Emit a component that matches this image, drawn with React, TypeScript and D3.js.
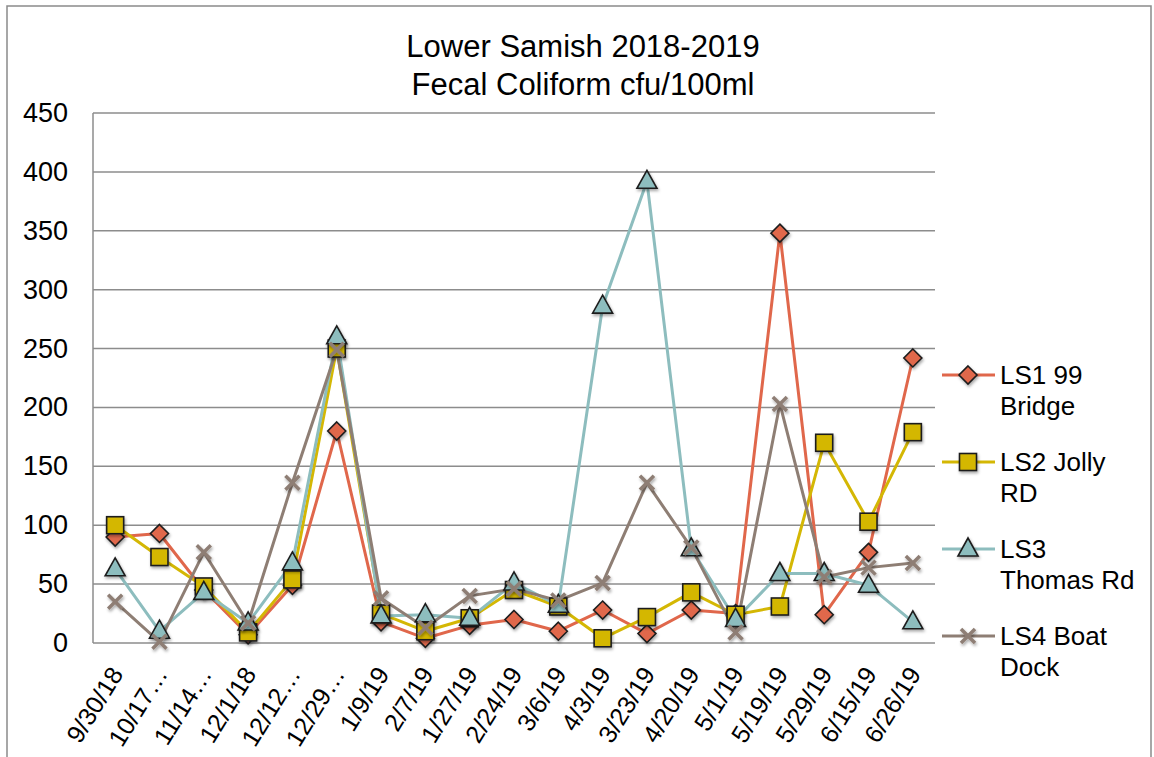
import React from "react";
import * as d3 from "d3";

const categories = ["9/30/18","10/17…","11/14…","12/1/18","12/12…","12/29…","1/9/19","2/7/19","1/27/19","2/24/19","3/6/19","4/3/19","3/23/19","4/20/19","5/1/19","5/19/19","5/29/19","6/15/19","6/26/19"];
const ls1 = [90,93,45,7,49,180,18,4,15,20,10,28,8,28,25,348,24,77,242];
const ls2 = [100,73,48,9,54,250,25,10,21,45,31,4,22,43,24,31,170,103,179];
const ls3 = [63,10,43,17,68,260,23,24,21,51,32,286,392,80,20,59,59,49,18];
const ls4 = [35,1,77,17,136,249,38,13,40,46,36,51,136,81,9,203,56,64,68];
const yTicks = [0,50,100,150,200,250,300,350,400,450];
const seriesNames = [["LS1 99","Bridge"],["LS2 Jolly","RD"],["LS3","Thomas Rd"],["LS4 Boat","Dock"]];
const colors = ["#E0674B","#D4B704","#8DBDBE","#8E7E74"];
const markers = ["diamond","square","triangle","x"];

const FONT = "'Liberation Sans', Arial, sans-serif";

function Marker({ type, x, y, color }: { type: string; x: number; y: number; color: string }) {
  const s = "#1e1e1e";
  if (type === "diamond") {
    const r = 9;
    return <path d={`M${x},${y - r}L${x + r},${y}L${x},${y + r}L${x - r},${y}Z`} fill={color} stroke={s} strokeWidth={1.6} filter="url(#sh)" />;
  }
  if (type === "square") {
    const r = 8.5;
    return <rect x={x - r} y={y - r} width={2 * r} height={2 * r} fill={color} stroke={s} strokeWidth={1.6} filter="url(#sh)" />;
  }
  if (type === "triangle") {
    return <path d={`M${x},${y - 11}L${x + 10},${y + 7}L${x - 10},${y + 7}Z`} fill={color} stroke={s} strokeWidth={1.6} filter="url(#sh)" />;
  }
  const r = 7;
  return (
    <g stroke={color} strokeWidth={3.5} filter="url(#sh)">
      <line x1={x - r} y1={y - r} x2={x + r} y2={y + r} />
      <line x1={x - r} y1={y + r} x2={x + r} y2={y - r} />
    </g>
  );
}

export default function App() {
  const W = 1154, H = 757;
  const left = 93, right = 935, top = 113, bottom = 643;
  const x = d3.scaleBand().domain(categories).range([left, right]);
  const y = d3.scaleLinear().domain([0, 450]).range([bottom, top]);
  const cx = (c: string) => (x(c) as number) + x.bandwidth() / 2;
  const data = [ls1, ls2, ls3, ls4];
  const line = (vals: number[]) =>
    d3.line<number>().x((_, i) => cx(categories[i])).y((v) => y(v))(vals) as string;

  return (
    <svg width={W} height={H} style={{ position: "absolute", left: 0, top: 0, fontFamily: FONT }}>
      <defs>
        <filter id="sh" x="-50%" y="-50%" width="200%" height="200%">
          <feDropShadow dx="1" dy="2" stdDeviation="1.5" floodColor="#000" floodOpacity="0.35" />
        </filter>
      </defs>
      <rect x={0} y={0} width={W} height={H} fill="#fff" />
      <rect x={7} y={6} width={1144} height={760} fill="none" stroke="#8a8a8a" strokeWidth={1.5} />
      <text x={583} y={57} textAnchor="middle" fontSize={31} fill="#000">Lower Samish 2018-2019</text>
      <text x={583} y={95} textAnchor="middle" fontSize={31} fill="#000">Fecal Coliform cfu/100ml</text>
      {yTicks.map((t) => (
        <g key={t}>
          <line x1={left} x2={right} y1={y(t)} y2={y(t)} stroke="#8c8c8c" strokeWidth={1.5} />
          <text x={68} y={y(t) + 9} textAnchor="end" fontSize={27} fill="#000">{t}</text>
        </g>
      ))}
      <line x1={left} x2={left} y1={top} y2={bottom} stroke="#8c8c8c" strokeWidth={1.5} />
      {categories.map((c) => (
        <text key={c} transform={`translate(${cx(c) + 9},${674}) rotate(-58)`} textAnchor="end" fontSize={25} fill="#000">{c}</text>
      ))}
      {data.map((vals, k) => (
        <path key={k} d={line(vals)} fill="none" stroke={colors[k]} strokeWidth={3} strokeLinejoin="round" />
      ))}
      {data.map((vals, k) => (
        <g key={k}>
          {vals.map((v, i) => (
            <Marker key={i} type={markers[k]} x={cx(categories[i])} y={y(v)} color={colors[k]} />
          ))}
        </g>
      ))}
      {seriesNames.map((n, k) => {
        const ly = 375 + k * 87;
        return (
          <g key={k}>
            <line x1={942} x2={995} y1={ly} y2={ly} stroke={colors[k]} strokeWidth={3} />
            <Marker type={markers[k]} x={968} y={ly} color={colors[k]} />
            <text x={1000} y={ly + 9} fontSize={26} fill="#000">{n[0]}</text>
            <text x={1000} y={ly + 40} fontSize={26} fill="#000">{n[1]}</text>
          </g>
        );
      })}
    </svg>
  );
}
